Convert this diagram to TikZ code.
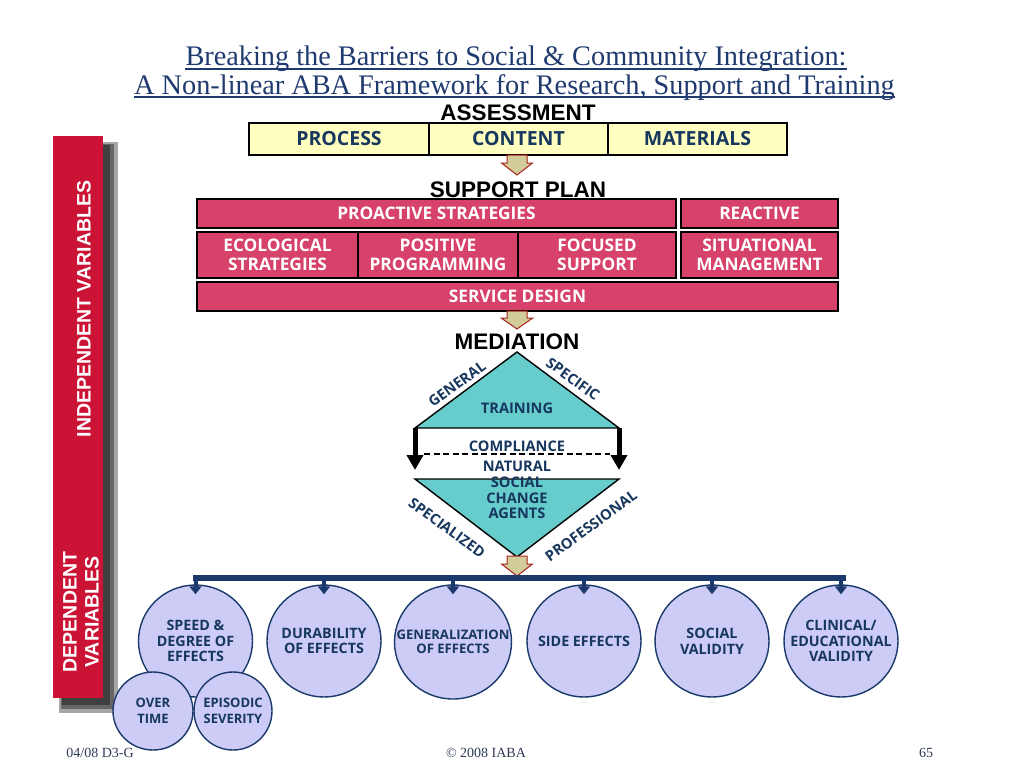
\documentclass[tikz,border=0pt]{standalone}
\usepackage{fontspec}
\setmainfont{Liberation Serif}
\newfontfamily\boxfont{Open Sans}
\newfontfamily\headfont{Liberation Sans}
\usetikzlibrary{shapes.geometric, arrows.meta}
\definecolor{navy}{HTML}{17375E}
\definecolor{titleblue}{HTML}{1F3A6E}
\definecolor{asyellow}{HTML}{FFFFC0}
\definecolor{plpink}{HTML}{D6426A}
\definecolor{barred}{HTML}{CB1335}
\definecolor{medteal}{HTML}{66CCCC}
\definecolor{dvlav}{HTML}{CCCCF7}
\definecolor{flowtan}{HTML}{D2CC9A}
\definecolor{flowred}{HTML}{A8231E}
\definecolor{busnavy}{HTML}{1B3A6B}
\definecolor{footgray}{HTML}{2E3A55}
\tikzset{
  font=\boxfont\bfseries,
  % Set arrowhead
  >=Triangle,
  % Slide title
  title/.style={font=\rmfamily\mdseries\fontsize{28.3}{30}\selectfont, text=titleblue,
    inner sep=0pt, anchor=base},
  % Stage heading
  stage/.style={font=\headfont\bfseries\fontsize{22.5}{24}\selectfont, inner sep=0pt,
    anchor=base},
  % Assessment box
  abox/.style={draw, line width=1.6pt, fill=asyellow, text=navy, inner sep=0pt,
    minimum height=32pt, font=\boxfont\bfseries\fontsize{19.5}{21}\selectfont},
  % Support plan box
  pbox/.style={draw, line width=1.6pt, fill=plpink, text=white, inner sep=0pt,
    align=center, font=\boxfont\bfseries\fontsize{17.3}{18.5}\selectfont},
  % Block arrow between stages
  flowarrow/.pic={
    \draw[draw=flowred, fill=flowtan, line width=1pt, line join=miter]
      (-10,0) -- (10,0) -- (10,8) -- (15.5,8) -- (0,20) -- (-15.5,8) -- (-10,8) -- cycle;
  },
  % Mediation triangles and texts
  tri/.style={draw, fill=medteal, line width=1.4pt, line join=miter},
  med/.style={text=navy, inner sep=0pt, align=center,
    font=\boxfont\bfseries\fontsize{14.6}{15.7}\selectfont},
  side/.style={line width=5pt, -{Triangle[width=16pt,length=15pt]}, shorten >=9pt},
  % Dependent variable circles
  dvar/.style={ellipse, draw=busnavy, line width=1.4pt, fill=dvlav, inner sep=0pt,
    minimum width=114pt, minimum height=112pt},
  dvtext/.style={text=navy, inner sep=0pt, align=center,
    font=\boxfont\bfseries\fontsize{14.3}{15.8}\selectfont},
  smalltext/.style={dvtext, font=\boxfont\bfseries\fontsize{13}{15.5}\selectfont},
  bus/.style={draw=busnavy, line width=6pt, line cap=rect},
  drop/.style={draw=busnavy, line width=4pt, -{Triangle[width=12pt,length=8pt]}},
  % Side bar
  vtext/.style={text=white, rotate=90, inner sep=0pt, align=center,
    font=\headfont\bfseries\fontsize{19.5}{22}\selectfont},
  foot/.style={font=\rmfamily\mdseries\fontsize{14}{16}\selectfont, text=footgray,
    inner sep=0pt},
}

\begin{document}
\begin{tikzpicture}[x=1pt, y=-1pt]
  \useasboundingbox[fill=white] (0,0) rectangle (1024,768);

  % side bar with shadow
  \fill[black!35] (59,142) rectangle (118,713);
  \fill[black!60] (61,144) rectangle (114,709);
  \fill[black!75] (62,145) rectangle (110,705);
  \fill[barred] (53,136) rectangle (103,698);
  \node[vtext] (indep) at (84,309) {INDEPENDENT VARIABLES};
  \node[vtext] (dep) at (81,612) {DEPENDENT\\VARIABLES};

  % title
  \node[title] (title1) at (516,66)
    {Breaking the Barriers to Social \& Community Integration:};
  \node[title] (title2) at (514.5,94)
    {A Non-linear ABA Framework for Research, Support and Training};
  \draw[titleblue, line width=1.2pt] ([yshift=-3pt]title1.base west)
    -- ([yshift=-3pt]title1.base east);
  \draw[titleblue, line width=1.2pt] ([yshift=-3pt]title2.base west)
    -- ([yshift=-3pt]title2.base east);

  % assessment
  \node[stage] (assess) at (518,120) {ASSESSMENT};
  \node[abox, minimum width=180pt] (process) at (339,139) {PROCESS};
  \node[abox, minimum width=179pt] (content) at (518.5,139) {CONTENT};
  \node[abox, minimum width=179pt] (materials) at (697.5,139) {MATERIALS};
  \pic (f1) at (517,155) {flowarrow};

  % support plan
  \node[stage] (plan) at (518,197) {SUPPORT PLAN};
  \node[pbox, minimum width=479pt, minimum height=29pt] (proactive) at (436.5,213.5)
    {PROACTIVE STRATEGIES};
  \node[pbox, minimum width=157pt, minimum height=29pt] (reactive) at (759.5,213.5)
    {REACTIVE};
  \node[pbox, minimum width=161pt, minimum height=46pt] (eco) at (277.5,255)
    {ECOLOGICAL\\STRATEGIES};
  \node[pbox, minimum width=160pt, minimum height=46pt] (pos) at (438,255)
    {POSITIVE\\PROGRAMMING};
  \node[pbox, minimum width=158pt, minimum height=46pt] (focus) at (597,255)
    {FOCUSED\\SUPPORT};
  \node[pbox, minimum width=157pt, minimum height=46pt] (situ) at (759.5,255)
    {SITUATIONAL\\MANAGEMENT};
  \node[pbox, minimum width=641pt, minimum height=29pt] (service) at (517.5,296.5)
    {SERVICE DESIGN};
  \pic[yscale=0.9] (f2) at (517,311) {flowarrow};

  % mediation
  \node[stage] (mediation) at (517,349) {MEDIATION};
  \coordinate (top) at (517,352);
  \coordinate (uleft) at (415,428);
  \coordinate (uright) at (619,428);
  \coordinate (lleft) at (415,479);
  \coordinate (lright) at (619,479);
  \coordinate (bottom) at (517,557);
  \coordinate (dashL) at (424,454);
  \coordinate (dashR) at (610,454);
  \draw[tri] (top) -- (uright) -- (uleft) -- cycle;
  \draw[tri] (lleft) -- (lright) -- (bottom) -- cycle;
  \draw[line width=1.1pt, dash pattern=on 6pt off 3.5pt] (dashL) -- (dashR);
  \draw[side] (uleft) -- (lleft);
  \draw[side] (uright) -- (lright);
  \node[med] (training) at (517,408) {TRAINING};
  \node[med] (compliance) at (517,446) {COMPLIANCE};
  \node[med] (agents) at (517,490) {NATURAL\\SOCIAL\\CHANGE\\AGENTS};
  \node[med, rotate=36] (general) at (457,384) {GENERAL};
  \node[med, rotate=-36] (specific) at (573,379) {SPECIFIC};
  \node[med, rotate=-36] (specialized) at (447,528) {SPECIALIZED};
  \node[med, rotate=36] (professional) at (591,526) {PROFESSIONAL};
  \pic (f3) at (517,556) {flowarrow};

  % dependent variables
  \node[dvar, label={[dvtext]center:SPEED \&\\DEGREE OF\\EFFECTS}] (speed) at (195.5,641) {};
  \node[dvar, label={[dvtext]center:DURABILITY\\OF EFFECTS}] (durability) at (324,641) {};
  \node[dvar, minimum width=117pt, minimum height=114pt,
    label={[dvtext, font=\boxfont\bfseries\fontsize{13.1}{14}\selectfont]center:GENERALIZATION\\OF EFFECTS}]
    (generalization) at (453,642) {};
  \node[dvar, label={[dvtext]center:SIDE EFFECTS}] (side) at (584,641) {};
  \node[dvar, label={[dvtext]center:SOCIAL\\VALIDITY}] (social) at (712,641) {};
  \node[dvar, label={[dvtext]center:CLINICAL/\\EDUCATIONAL\\VALIDITY}] (clinical) at (841,641) {};
  \node[dvar, minimum width=80pt, minimum height=78pt,
    label={[smalltext]center:OVER\\TIME}] (overtime) at (153,711) {};
  \node[dvar, minimum width=78pt, minimum height=78pt,
    label={[smalltext]center:EPISODIC\\SEVERITY}] (episodic) at (233,711) {};

  \coordinate (busL) at (195.5,578);
  \coordinate (busR) at (843,578);
  \draw[bus] (busL) -- (busR);
  \foreach \v in {speed, durability, generalization, side, social, clinical}
    \draw[drop] (\v.north |- busL) -- ([yshift=-10pt]\v.north);

  % footer
  \node[foot] (date) at (100,753) {04/08 D3-G};
  \node[foot] (copy) at (486,753) {\textcopyright{} 2008 IABA};
  \node[foot] (page) at (926,753) {65};
\end{tikzpicture}
\end{document}
